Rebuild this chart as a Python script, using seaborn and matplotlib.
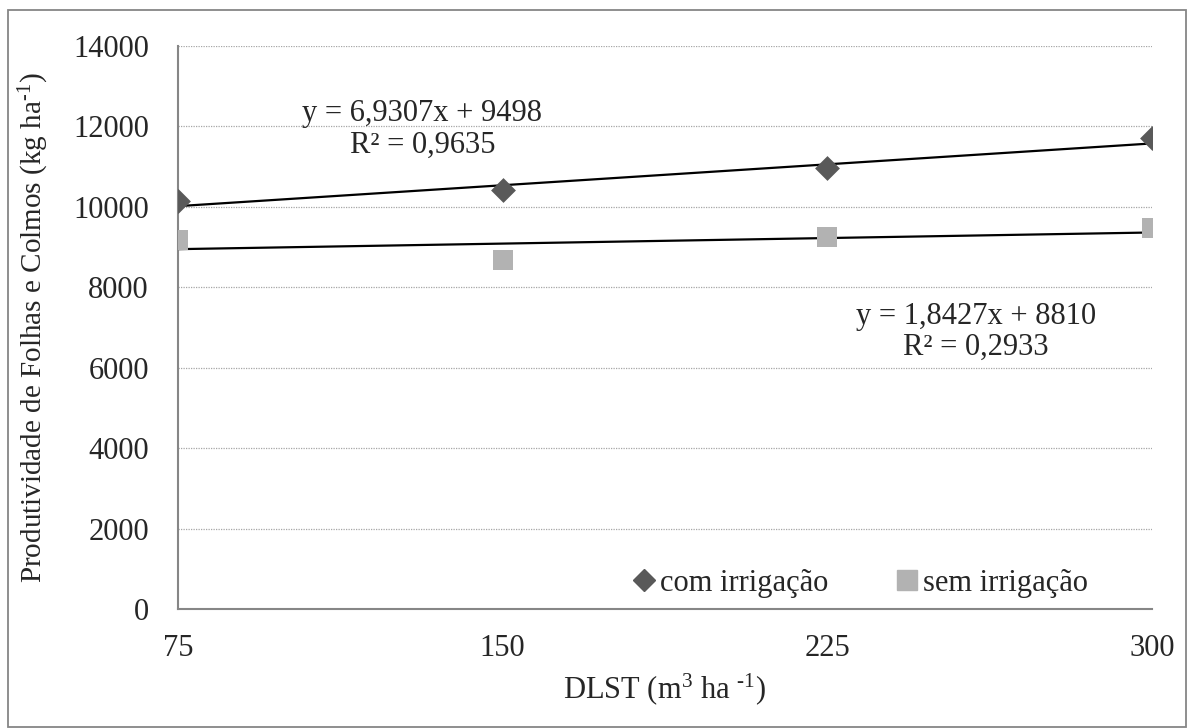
import matplotlib.pyplot as plt
import matplotlib.patches as mpatches
from matplotlib.lines import Line2D
import numpy as np
import pandas as pd
import seaborn as sns

# data
dlst = [75, 150, 225, 300]
com_irrigacao = [10140, 10410, 10965, 11700]
sem_irrigacao = [9185, 8685, 9250, 9485]
series_names = ["com irrigação", "sem irrigação"]
# trend line coefficients as printed on the chart (slope, intercept)
trend_com = (6.9307, 9498)
trend_sem = (1.8427, 8810)
eq_com = "y = 6,9307x + 9498\nR² = 0,9635"
eq_sem = "y = 1,8427x + 8810\nR² = 0,2933"

sns.set_style("white")
plt.rcParams['font.family'] = ['Liberation Serif', 'DejaVu Serif']
plt.rcParams['mathtext.fontset'] = 'custom'
plt.rcParams['mathtext.rm'] = 'Liberation Serif'
plt.rcParams['mathtext.it'] = 'Liberation Serif'
plt.rcParams['mathtext.default'] = 'regular'

com_df = pd.DataFrame({"DLST": dlst, "Prod": com_irrigacao})
sem_df = pd.DataFrame({"DLST": dlst, "Prod": sem_irrigacao})

# colors
dark_gray = "#595959"
light_gray = "#B2B2B2"
axis_gray = "#868686"
fs = 22

fig = plt.figure(figsize=(11.88, 7.28), dpi=100)
ax = fig.add_axes([178 / 1188, 1 - 609 / 728, (1152 - 178) / 1188, (609 - 46) / 728])

# trend lines
xs = np.array([dlst[0], dlst[-1]])
for slope, inter in (trend_com, trend_sem):
    ax.plot(xs, slope * xs + inter, color="black", lw=1.6, zorder=2)

sns.scatterplot(data=com_df, x="DLST", y="Prod", marker="D", color=dark_gray,
                s=160, linewidth=0, ax=ax, zorder=3)
sns.scatterplot(data=sem_df, x="DLST", y="Prod", marker="s", color=light_gray,
                s=210, linewidth=0, ax=ax, zorder=3)

ax.set_xlim(75, 300)
ax.set_ylim(0, 14000)
ax.set_xticks(dlst)
ax.set_yticks(range(0, 14001, 2000))
ax.tick_params(axis="both", labelsize=fs, length=7, color=axis_gray, width=1.2)
ax.tick_params(axis="y", pad=14)
ax.tick_params(axis="x", pad=11)
ax.yaxis.grid(True, linestyle=(0, (1, 1)), color="#A6A6A6", lw=0.9)
ax.set_axisbelow(True)
for side in ["top", "right"]:
    ax.spines[side].set_visible(False)
for side in ["left", "bottom"]:
    ax.spines[side].set_color(axis_gray)
    ax.spines[side].set_linewidth(1.5)

ax.set_xlabel(r"DLST (m$^{3}$ ha $^{\text{-}1}$)", fontsize=fs, labelpad=6)
ax.set_ylabel(r"Produtividade de Folhas e Colmos (kg ha$^{\text{-}1}$)", fontsize=21, labelpad=16)

ax.text(0.251, 0.852, eq_com, transform=ax.transAxes, fontsize=fs,
        ha="center", va="center", linespacing=1.12, multialignment="center")
ax.text(0.819, 0.492, eq_sem, transform=ax.transAxes, fontsize=fs,
        ha="center", va="center", linespacing=1.12, multialignment="center")

handles = [
    Line2D([], [], marker="D", color=dark_gray, ls="none", markersize=11, label=series_names[0]),
    Line2D([], [], marker="s", color=light_gray, ls="none", markersize=14, label=series_names[1]),
]
ax.legend(handles=handles, loc="center", bbox_to_anchor=(0.7, 0.045), ncol=2,
          frameon=False, fontsize=fs, handletextpad=0.1, columnspacing=2.2,
          handlelength=0.8, borderpad=0)

# outer chart border
fig.patches.append(mpatches.Rectangle((8 / 1188, 0.002), 1 - 8 / 1188 - 0.002, 1 - 10 / 728 - 0.002,
                                      transform=fig.transFigure, fill=False,
                                      edgecolor="#868686", lw=1.3))

fig.savefig("out.png", dpi=100)
